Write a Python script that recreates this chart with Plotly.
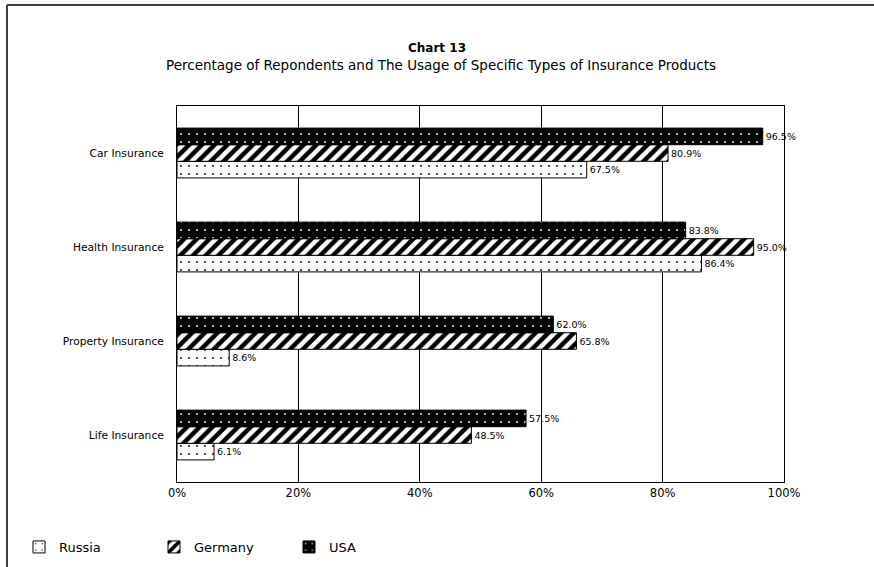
import plotly.graph_objects as go

categories = ["Life Insurance", "Property Insurance", "Health Insurance", "Car Insurance"]
russia = [6.1, 8.6, 86.4, 67.5]
germany = [48.5, 65.8, 95.0, 80.9]
usa = [57.5, 62.0, 83.8, 96.5]
x_ticks = [0, 20, 40, 60, 80, 100]
title_text = "Chart 13"
subtitle_text = "Percentage of Repondents and The Usage of Specific Types of Insurance Products"

FONT = "DejaVu Sans, Arial, sans-serif"
W, H = 874, 567
L, R, T, B = 177, 784, 106, 482  # plot area in pixels

def bar(name, vals, color, shape, fg, bg, size, sol):
    return go.Bar(
        name=name, y=categories, x=vals, orientation="h",
        marker=dict(color=color, line=dict(color="black", width=1),
                    pattern=dict(shape=shape, fgcolor=fg, bgcolor=bg, size=size,
                                 solidity=sol, fillmode="replace")),
        texttemplate="%{x:.1f}%", textposition="outside", cliponaxis=False,
        textfont=dict(size=9.5, color="black", family=FONT),
    )

fig = go.Figure()
fig.add_trace(bar("Russia", russia, "white", ".", "black", "white", 8, 0.04))
fig.add_trace(bar("Germany", germany, "white", "/", "black", "white", 9, 0.5))
fig.add_trace(bar("USA", usa, "black", ".", "white", "black", 8, 0.04))

pw = R - L
ph = B - T
fig.update_layout(
    width=W, height=H,
    margin=dict(l=L, r=W - R, t=T, b=H - B),
    paper_bgcolor="white", plot_bgcolor="white",
    font=dict(family=FONT, size=10.5, color="black"),
    barmode="group", bargap=0.47, bargroupgap=0,
    title=dict(
        text="<b>" + title_text + "</b>",
        x=0.5, xref="container", xanchor="center", y=1 - 48 / H, yref="container", yanchor="middle",
        font=dict(size=12, family=FONT, color="black"),
    ),
    annotations=[dict(
        text=subtitle_text, xref="paper", yref="paper",
        x=(441 - L) / pw, y=1 + (T - 65) / ph, xanchor="center", yanchor="middle",
        showarrow=False, font=dict(size=13.5, family=FONT, color="black"),
    )],
    xaxis=dict(range=[0, 100], tickvals=x_ticks, ticktext=[f"{v}%" for v in x_ticks],
               showgrid=True, gridcolor="black", gridwidth=1,
               showline=True, linecolor="black", linewidth=1, mirror=True,
               ticks="", zeroline=False, tickfont=dict(size=11.5)),
    yaxis=dict(showline=True, linecolor="black", linewidth=1, mirror=True,
               ticks="", ticklabelstandoff=10, tickfont=dict(size=10.7), showgrid=False),
    legend=dict(orientation="h", xref="container", yref="container",
                x=19 / W, y=1 - 547 / H, xanchor="left", yanchor="middle",
                font=dict(size=13), traceorder="normal", entrywidth=90),
    showlegend=True,
    shapes=[
        dict(type="line", xref="paper", yref="paper", x0=(7 - L) / pw, x1=(W + 10 - L) / pw,
             y0=1 + (T - 5) / ph, y1=1 + (T - 5) / ph, line=dict(color="#404040", width=2)),
        dict(type="line", xref="paper", yref="paper", x0=(7 - L) / pw, x1=(7 - L) / pw,
             y0=1 + (T - 5) / ph, y1=-(H + 10 - B) / ph, line=dict(color="#404040", width=2)),
    ],
)

fig.write_html("out.html", config={"displayModeBar": False},
               post_script="document.body.style.margin='0';")
